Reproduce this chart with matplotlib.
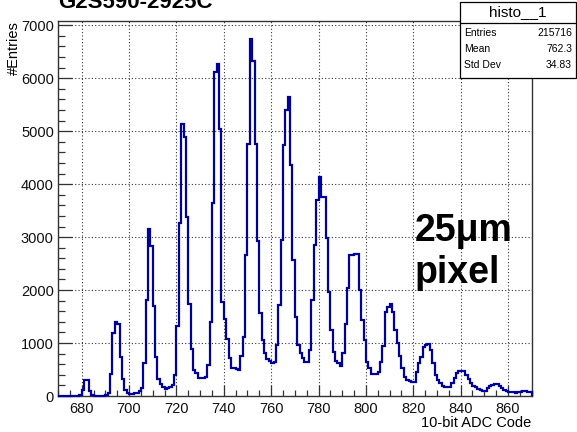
import numpy as np
import matplotlib
matplotlib.use("Agg")
import matplotlib.pyplot as plt
from matplotlib.patches import Rectangle
from matplotlib.lines import Line2D
from matplotlib.ticker import MultipleLocator

plt.rcParams['font.family'] = ['Liberation Sans', 'DejaVu Sans']

# histogram: one bin per ADC code, first bin starts at code 670
first_code = 670
counts = [
    0, 0, 0, 0, 0, 0, 0, 0, 0, 15,                                  # 670
    110, 300, 300, 85, 15, 0, 0, 0, 0, 5,                           # 680
    10, 60, 415, 1195, 1403, 1350, 742, 320, 113, 55,               # 690
    45, 45, 50, 60, 90, 150, 617, 1811, 3151, 2836,                 # 700
    1698, 742, 315, 220, 176, 138, 150, 176, 200, 396,              # 710
    1320, 3270, 5132, 4893, 3371, 1736, 881, 490, 428, 346,         # 720
    333, 340, 365, 585, 1402, 3635, 6120, 6274, 5050, 1780,         # 730
    1450, 1069, 711, 522, 522, 510, 490, 750, 1119, 2660,           # 740
    4750, 6748, 6327, 4750, 2931, 1560, 1057, 805, 690, 667,        # 750
    617, 640, 962, 1717, 2943, 4736, 5396, 5648, 4358, 2566,        # 760
    1496, 962, 805, 711, 648, 648, 868, 1811, 2849, 3698,           # 770
    4138, 3761, 3761, 2975, 1968, 1245, 836, 667, 617, 566,         # 780
    805, 1358, 2031, 2660, 2660, 2680, 2680, 2000, 1434, 1057,      # 790
    648, 522, 415, 410, 415, 459, 648, 943, 1591, 1673,             # 800
    1736, 1591, 1245, 994, 755, 522, 365, 302, 280, 265,            # 810
    260, 459, 617, 730, 918, 962, 980, 868, 617, 396,               # 820
    302, 240, 189, 176, 176, 176, 240, 333, 428, 478,               # 830
    478, 478, 396, 315, 240, 189, 164, 130, 113, 94,                # 840
    100, 145, 189, 208, 226, 226, 195, 157, 113, 100,               # 850
    82, 69, 69, 65, 69, 69, 88, 88, 75, 75,                         # 860
]

title = "G2S590-2925C"
hist_name = "histo__1"
stat_labels = ["Entries", "Mean", "Std Dev"]
stat_values = ["215716", "762.3", "34.83"]
x_label = "10-bit ADC Code"
y_label = "#Entries"
note_lines = ["25\u03bcm", "pixel"]

W, H = 577, 432


def fx(px):
    return px / W


def fy(py):
    return 1 - py / H


fig = plt.figure(figsize=(W / 100, H / 100), dpi=100)
ax = fig.add_axes([fx(58), fy(396), fx(531.7) - fx(58), fy(21) - fy(396)])

edges = np.arange(first_code, first_code + len(counts) + 1)
ax.stairs(counts, edges, baseline=0, color='#00009c', lw=1.6, clip_on=False, zorder=3)

ax.set_xlim(670, 870)
ax.set_ylim(0, 7080)
ax.xaxis.set_major_locator(MultipleLocator(20))
ax.xaxis.set_minor_locator(MultipleLocator(5))
ax.yaxis.set_major_locator(MultipleLocator(1000))
ax.yaxis.set_minor_locator(MultipleLocator(200))

ax.tick_params(which='both', direction='in', top=False, right=False,
               labelsize=10.5, color='#333333', width=0.9, labelcolor='#111111')
ax.tick_params(axis='y', which='major', length=10, pad=3)
ax.tick_params(axis='y', which='minor', length=5)
ax.tick_params(axis='x', which='major', length=8, pad=4)
ax.tick_params(axis='x', which='minor', length=4)

ax.set_axisbelow(True)
ax.grid(True, which='major', ls=(0, (1, 2)), color='#333333', lw=0.8)
for s in ax.spines.values():
    s.set_color('#333333')
    s.set_linewidth(1.0)

fig.text(fx(531), fy(427), x_label, ha='right', va='baseline', fontsize=10.5)
fig.text(fx(14), fy(21), y_label, ha='center', va='top', rotation=90, fontsize=10.5)

# title, clipped by the top edge as in the original
fig.text(fx(58), fy(8), title, ha='left', va='baseline', fontsize=16, fontweight='bold')

# "25um pixel" note
fig.text(fx(415), fy(241), note_lines[0], ha='left', va='baseline',
         fontsize=27, fontweight='bold')
fig.text(fx(415), fy(283), note_lines[1], ha='left', va='baseline',
         fontsize=27, fontweight='bold')

# stats box
box_l, box_r, box_t, box_b = 460, 576, 2, 78
fig.add_artist(Rectangle((fx(box_l), fy(box_b)), fx(box_r) - fx(box_l), fy(box_t) - fy(box_b),
                         transform=fig.transFigure, facecolor='white', edgecolor='black',
                         lw=0.9, zorder=5))
fig.add_artist(Line2D([fx(box_l), fx(box_r)], [fy(22.5), fy(22.5)],
                      transform=fig.transFigure, color='black', lw=0.9, zorder=6))
fig.text(fx((box_l + box_r) / 2), fy(12.5), hist_name, ha='center', va='center',
         fontsize=11, zorder=7)
for i, (lab, val) in enumerate(zip(stat_labels, stat_values)):
    yy = fy(33.5 + 15.5 * i)
    fig.text(fx(464), yy, lab, ha='left', va='center', fontsize=7.5, zorder=7)
    fig.text(fx(572), yy, val, ha='right', va='center', fontsize=7.5, zorder=7)

fig.savefig('out.png', dpi=100)
